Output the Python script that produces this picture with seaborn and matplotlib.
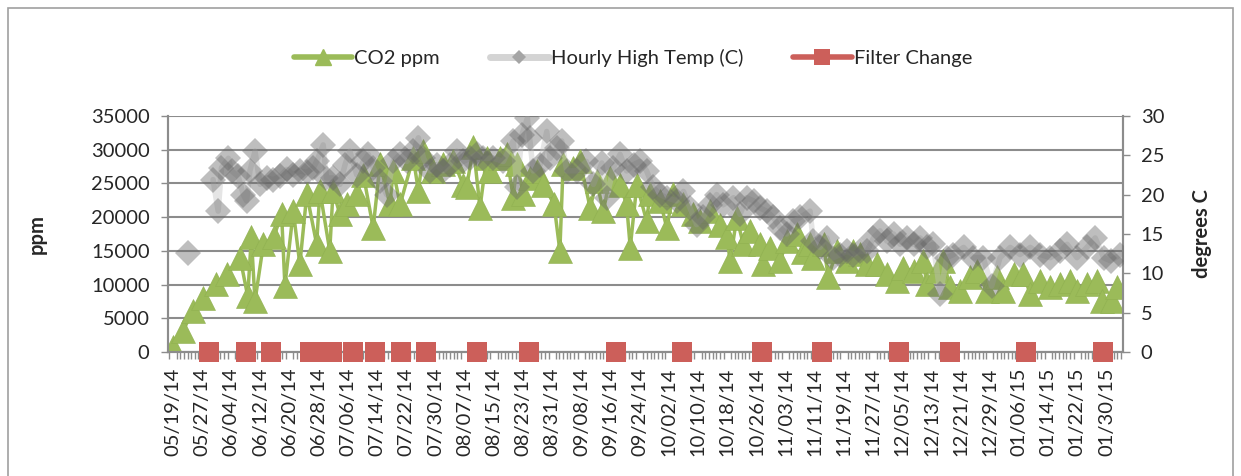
import numpy as np
import pandas as pd
import matplotlib
matplotlib.use("Agg")
import matplotlib.pyplot as plt
from matplotlib.lines import Line2D
from matplotlib.patches import Rectangle
from matplotlib.ticker import MultipleLocator, FixedLocator
import seaborn as sns

START = "2014-05-19"

# CO2 readings: days since 05/19/14 and ppm
co2_day = [0, 2.8, 5.4, 8.3, 11.9, 14.7, 18.4, 20.5, 21.5, 22.5, 24.8, 27.6,
           29.8, 30.7, 33, 34.8, 36.7, 39.4, 40.3, 43, 43.9, 45.8, 47.6, 50.4,
           52.2, 54.9, 56.8, 59.5, 60.4, 62.3, 65.9, 67.3, 68.7, 71.4, 74.1,
           76.9, 79.6, 80.5, 82.4, 84.2, 86, 87, 89.7, 91.5, 93.3, 94.3, 96.1,
           97.9, 99.7, 101.6, 104.5, 106.1, 107, 109.8, 111.6, 114.4, 116.2,
           118, 119.9, 122.6, 124.4, 125.4, 127.2, 129.9, 130.8, 133.6, 135.4,
           137.2, 140, 142.7, 144.5, 147.3, 150, 151.9, 152.8, 154.6, 156.4,
           158.3, 161, 161.8, 163.7, 166.5, 168.3, 171, 172.9, 174.7, 175.6,
           178.4, 179.7, 182, 184.8, 186.6, 188.4, 190.3, 193, 195.8, 198.5,
           200.3, 203.1, 205.8, 206.7, 209.5, 211.3, 213.1, 215.9, 218.6,
           220.4, 223.2, 225.9, 227.7, 230.5, 233.2, 235.1, 237.8, 240.6,
           243.3, 246.1, 247.9, 250.6, 253.4, 254.8, 257.5, 258.9]
co2_ppm = [800, 3200, 6150, 8100, 10100, 11560, 14000, 8300, 17000, 7600, 16000, 17000,
           20400, 9840, 20900, 13000, 23400, 16000, 23900, 15000, 23900, 20400, 21900, 23400,
           26300, 18450, 27800, 21900, 26800, 21900, 28800, 23900, 29800, 26800, 27800,
           28300, 24800, 24400, 30300, 21400, 28800, 26800, 28800, 29300, 22900, 27800, 23400,
           25800, 26800, 24800, 21900, 15000, 27800, 27300, 28300, 21400, 25300,
           20900, 25800, 24800, 21900, 15500, 24800, 19400, 23400, 22400, 18450,
           23400, 21900, 20400, 19400, 20900, 18900, 17000, 13500, 19900, 16000,
           18000, 16000, 13000, 15500, 13500, 16500, 17500, 14800, 16000, 14000,
           16000, 11100, 15000, 13500, 15000, 14500, 13000, 13000, 11600, 10600,
           12500, 12000, 13500, 10100, 12000, 13500, 9600, 9100, 11100,
           12000, 9100, 11100, 9100, 11600, 11600, 8600, 10600, 9600,
           10100, 10600, 9100, 10100, 10600, 7600, 7600, 9600]

# Hourly high temperature: days since 05/19/14, degrees C, line segment id
temp_day = [4.2,
            11, 12.4, 13.3, 15.2, 16.1, 17.9, 19.3, 20.2, 21.1, 22.5, 23.9, 25.7,
            27.5, 29.3, 31.2, 33, 34.8, 36.7, 38.5, 39.4, 41.2, 42.1, 43.9, 45.8,
            47.2, 48.5, 50.4, 52.2, 53.6, 54.9, 56.8, 58.6, 60.4, 62.3, 64.1,
            65.9, 67.3, 68.7, 70.5, 72.3, 74.1, 76, 77.8, 79.6, 81.5, 83.3, 85.1,
            87.9, 90.6, 93.3, 94.3, 95.7, 97.2, 97.8, 98.8, 100.7, 102.5, 103.4,
            105.2, 106.6, 108, 110.7, 113.4, 115.3, 117.6, 118.9, 120.8, 122.6,
            124.4, 126.3, 128.1, 129.9, 131.7, 133.6, 135.4, 138.1, 140, 141.8,
            143.6, 145.4, 147.3, 149.1, 150.9, 153.7, 155.5, 157.3, 159.2, 161,
            162.8, 164.6, 166.5, 168.3, 170.1, 172, 174.7, 175.6, 177.4, 179.3,
            181.1, 182.9, 184.8, 186.6, 188.4, 190.3, 192.1, 193.9, 195.8, 197.6,
            199.4, 201.2, 203.1, 204.9, 206.7, 208.5, 210.4, 212.2, 214, 216.8,
            219.5, 222.2, 224.5, 226.8, 229.6, 232.3, 235.1, 237.8, 240.6, 243.3,
            245.2, 247.9, 250.6, 252.9, 255.2, 257.1, 259.8]
temp_c = [12.6,
          21.9, 17.9, 23.4, 24.6, 23, 22.3, 20, 19.2, 23, 25.5, 21.3, 22.1,
          21.9, 22.3, 23.2, 22.5, 23, 22.8, 23.4, 24.2, 26.3, 22.1, 22.1, 21.3,
          23.8, 25.5, 22.5, 24.2, 25.1, 23.4, 21.7, 20, 24.2, 25.1, 24.2,
          25.5, 27.2, 24.6, 23, 23.8, 23, 23.8, 25.5, 24.2, 24.6, 25.1, 24.6,
          24.6, 24.2, 26.8, 20.9, 27.6, 29.7, 27.2, 23, 23.8, 28, 24.6,
          25.9, 26.8, 23, 23, 24.2, 21.3, 24, 19.6, 23.4, 25.1,
          23, 23.8, 24.2, 23, 20.9, 20, 19.6, 19.2, 20.4, 18.3,
          16.2, 17.1, 18.7, 20, 18.7, 19.6, 17.5, 19.6, 19.2, 18.3,
          17.9, 17.1, 15.8, 15, 16.6, 17.1, 17.9, 14.1, 13.3, 14.5,
          12, 12.4, 12.8, 12.4, 12.8, 12.8, 14.5, 15.4, 14.1, 15,
          13.7, 14.5, 13.7, 14.5, 13.3, 13.7, 7.4, 12, 12.4, 13.3,
          12, 12, 8.4, 12, 13.3, 12.4, 13.3, 12.4, 12, 12.8,
          13.7, 12, 13.3, 14.5, 12, 11.6, 12.4]
temp_seg = [0] + [1] * (len(temp_day) - 1)

# Filter change days (days since 05/19/14)
filter_day = [10, 20, 27, 37.5, 41, 43.5, 49.5, 55.5, 62.5, 69.5, 83.5, 97.5,
              121.5, 139.5, 161.5, 178, 199, 213, 234, 255]

tick_days = list(range(0, 257, 8))
tick_labels = list(pd.date_range(START, periods=len(tick_days), freq="8D").strftime("%m/%d/%y"))

GREEN = "#9BBB59"
GRAY = "#666666"
RED = "#CC5F5A"
GRID = "#8C8C8C"

sns.set_theme(style="white")
plt.rcParams["font.family"] = ["Lato", "DejaVu Sans"]
FS = 14.5

fig = plt.figure(figsize=(12.41, 4.76), dpi=100)
ax = fig.add_axes([0.1351, 0.2599, 0.7696, 0.4970])
ax2 = ax.twinx()

co2_df = pd.DataFrame({"day": co2_day, "ppm": co2_ppm})
temp_df = pd.DataFrame({"day": temp_day, "temp": temp_c, "seg": temp_seg})
filt_df = pd.DataFrame({"day": filter_day, "val": [0] * len(filter_day)})

sns.lineplot(data=co2_df, x="day", y="ppm", ax=ax, color=GREEN, linewidth=2.5,
             marker="^", markersize=17, markeredgecolor="#8FB050", markeredgewidth=0.4,
             estimator=None, sort=False, zorder=3)

sns.lineplot(data=temp_df, x="day", y="temp", units="seg", estimator=None, ax=ax2,
             color="#BFBFBF", alpha=0.4, linewidth=4, sort=False, zorder=2)
sns.lineplot(data=temp_df, x="day", y="temp", units="seg", estimator=None, ax=ax2,
             color=GRAY, alpha=0.42, linewidth=0, marker="D", markersize=13.5,
             markeredgewidth=0, sort=False, zorder=3)

sns.lineplot(data=filt_df, x="day", y="val", ax=ax2, color=RED, linewidth=0,
             marker="s", markersize=14.8, markeredgewidth=0, estimator=None,
             sort=False, zorder=5, clip_on=False)

# axes styling
ax.set_xlim(-1.45, 260.45)
ax.set_ylim(0, 35000)
ax2.set_ylim(0, 30)
ax.set_yticks(range(0, 35001, 5000))
ax2.set_yticks(range(0, 31, 5))
ax.xaxis.set_major_locator(FixedLocator(tick_days))
ax.set_xticklabels(tick_labels, rotation=90, fontsize=FS)
ax.xaxis.set_minor_locator(MultipleLocator(1))
ax.tick_params(axis="x", which="major", length=5, width=1, color=GRID, pad=6)
ax.tick_params(axis="x", which="minor", length=5, width=1, color=GRID, bottom=True)
ax.tick_params(axis="y", labelsize=FS, length=5, width=1, color=GRID, left=True, pad=8)
ax2.tick_params(axis="y", labelsize=FS, length=5, width=1, color=GRID, right=True, pad=8)
ax.grid(axis="y", color=GRID, linewidth=1.5)
ax.set_axisbelow(True)
ax.set_xlabel("")
ax.set_ylabel("ppm", fontsize=FS, fontweight="bold", labelpad=32)
ax2.set_ylabel("degrees C", fontsize=FS, fontweight="bold", labelpad=20)

for a in (ax, ax2):
    a.spines["top"].set_visible(False)
    for side in ("left", "right", "bottom"):
        a.spines[side].set_color(GRID)
        a.spines[side].set_linewidth(1.5)

handles = [
    Line2D([], [], color=GREEN, linewidth=4, marker="^", markersize=11),
    Line2D([], [], color="#D4D4D4", linewidth=5, marker="D", markersize=7,
           markerfacecolor="#A5A5A5", markeredgewidth=0),
    Line2D([], [], color=RED, linewidth=4, marker="s", markersize=11, markeredgewidth=0),
]
fig.legend(handles, ["CO2 ppm", "Hourly High Temp (C)", "Filter Change"],
           loc="center", bbox_to_anchor=(0.51, 0.878), ncol=3, frameon=False,
           fontsize=FS, handlelength=2.9, handletextpad=0.1, columnspacing=2.5)

fig.patches.append(Rectangle((8 / 1241, -0.1), 1225 / 1241, 1.1 - 8 / 476,
                             transform=fig.transFigure, fill=False,
                             edgecolor="#A0A0A0", linewidth=1.2))

fig.savefig("out.png", dpi=100)
